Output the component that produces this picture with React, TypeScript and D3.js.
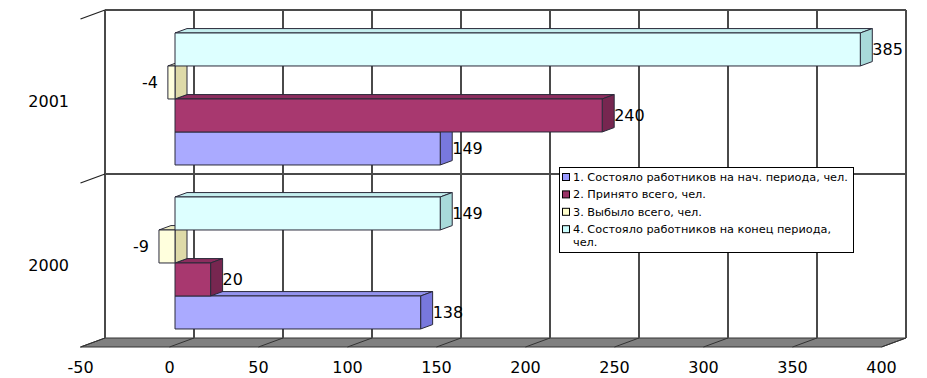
import React from "react";
import * as d3 from "d3";

const categories = ["2001", "2000"];
const seriesNames = [
  "1. Состояло работников на нач. периода, чел.",
  "2. Принято всего, чел.",
  "3. Выбыло всего, чел.",
  "4. Состояло работников на конец периода,",
];
const legendWrap = ["", "", "", "чел."];
// values indexed by category order ["2001","2000"]
const s1 = [149, 138];
const s2 = [240, 20];
const s3 = [-4, -9];
const s4 = [385, 149];
const seriesValues = [s1, s2, s3, s4];
const xTicks = [-50, 0, 50, 100, 150, 200, 250, 300, 350, 400];

const legendColors = ["#9999FF", "#993366", "#FFFFCC", "#CCFFFF"];
const frontColors = ["#AAAAFF", "#A8386F", "#FFFFDD", "#DDFFFF"];
const topColors = ["#9494EE", "#8C2D5E", "#EEEEC4", "#C4EEEE"];
const sideColors = ["#7878DD", "#772650", "#DEDAA8", "#A8DADA"];

const W = 927;
const H = 378;
const DX = -24.5;
const DY = 9;
const TF = 19 / 24.5;
const TB = 7 / 24.5;

export default function App() {
  const x = d3.scaleLinear().domain([-50, 400]).range([105, 906]);
  const yCat = d3.scaleBand<string>().domain(categories).range([10, 338]);
  const ySer = d3
    .scaleBand<number>()
    .domain([3, 2, 1, 0])
    .range([0, yCat.bandwidth()])
    .paddingOuter(0.485)
    .paddingInner(0);
  const bw = ySer.bandwidth();
  const proj = (v: number, yy: number, t: number): [number, number] => [
    x(v) + t * DX,
    yy + t * DY,
  ];
  const pts = (a: [number, number][]) => a.map((p) => p.join(",")).join(" ");

  const wallTop = 10;
  const wallBot = 338;
  const x0 = x(-50);
  const x1 = x(400);

  const bars: React.ReactNode[] = [];
  const labels: React.ReactNode[] = [];
  ["2000", "2001"].forEach((cat) => {
    const ci = categories.indexOf(cat);
    [0, 1, 2, 3].forEach((si) => {
      const v = seriesValues[si][ci];
      const a = Math.min(0, v);
      const b = Math.max(0, v);
      const yT = (yCat(cat) as number) + (ySer(si) as number);
      const yB = yT + bw;
      const front = [proj(a, yT, TF), proj(b, yT, TF), proj(b, yB, TF), proj(a, yB, TF)];
      const top = [proj(a, yT, TF), proj(b, yT, TF), proj(b, yT, TB), proj(a, yT, TB)];
      const side = [proj(b, yT, TF), proj(b, yT, TB), proj(b, yB, TB), proj(b, yB, TF)];
      const key = cat + "-" + si;
      bars.push(
        <g key={key} stroke="#2a2a3a" strokeWidth={1} strokeLinejoin="round">
          <polygon points={pts(top)} fill={topColors[si]} />
          <polygon points={pts(side)} fill={sideColors[si]} />
          <polygon points={pts(front)} fill={frontColors[si]} />
        </g>
      );
      const cy = (yT + yB) / 2 + TF * DY;
      if (v >= 0) {
        labels.push(
          <text key={"l" + key} x={proj(b, 0, TB)[0]} y={cy} dy="0.36em" textAnchor="start">
            {v}
          </text>
        );
      } else {
        labels.push(
          <text key={"l" + key} x={proj(a, 0, TF)[0] - 10} y={cy} dy="0.36em" textAnchor="end">
            {v}
          </text>
        );
      }
    });
  });

  const boundaries = [wallTop, (yCat("2000") as number)];

  return (
    <svg
      width={W}
      height={H}
      style={{ position: "absolute", left: 0, top: 0, background: "#fff" }}
      fontFamily="DejaVu Sans"
    >
      {/* floor */}
      <polygon
        points={pts([[x0, wallBot], [x1, wallBot], proj(400, wallBot, 1), proj(-50, wallBot, 1)])}
        fill="#808080"
        stroke="#333"
        strokeWidth={1}
      />
      {xTicks.map((t) => (
        <line
          key={"fl" + t}
          x1={x(t)}
          y1={wallBot}
          x2={proj(t, wallBot, 1)[0]}
          y2={proj(t, wallBot, 1)[1]}
          stroke="#333"
          strokeWidth={1}
        />
      ))}
      {/* back wall gridlines */}
      <g stroke="#4a4a4a" strokeWidth={2}>
        {xTicks.map((t) => (
          <line key={"g" + t} x1={x(t)} y1={wallTop} x2={x(t)} y2={wallBot} />
        ))}
        <line x1={x0} y1={wallTop} x2={x1} y2={wallTop} />
        <line x1={x0} y1={yCat("2000") as number} x2={x1} y2={yCat("2000") as number} />
      </g>
      {/* left ticks */}
      {boundaries.map((b) => (
        <line
          key={"t" + b}
          x1={x0}
          y1={b}
          x2={proj(-50, b, 1)[0]}
          y2={proj(-50, b, 1)[1]}
          stroke="#222"
          strokeWidth={1.3}
        />
      ))}
      {bars}
      <g fontSize={16} fill="#000">
        {labels}
        {categories.map((c) => (
          <text
            key={"c" + c}
            x={69}
            y={(yCat(c) as number) + yCat.bandwidth() / 2 + 9}
            dy="0.36em"
            textAnchor="end"
          >
            {c}
          </text>
        ))}
        {xTicks.map((t) => (
          <text key={"xt" + t} x={proj(t, wallBot, 1)[0]} y={373} textAnchor="middle">
            {t}
          </text>
        ))}
      </g>
      {/* legend */}
      <g>
        <rect x={559.5} y={167.5} width={294} height={85} fill="#fff" stroke="#000" strokeWidth={1} />
        {seriesNames.map((n, i) => {
          const cy = 177 + i * 17.4;
          return (
            <g key={"lg" + i}>
              <rect x={562.5} y={cy - 3.5} width={7} height={7} fill={legendColors[i]} stroke="#000" strokeWidth={1} />
              <text x={573} y={cy} dy="0.36em" fontSize={11.3}>
                {n}
              </text>
              {legendWrap[i] && (
                <text x={573} y={cy + 12.5} dy="0.36em" fontSize={11.3}>
                  {legendWrap[i]}
                </text>
              )}
            </g>
          );
        })}
      </g>
    </svg>
  );
}
